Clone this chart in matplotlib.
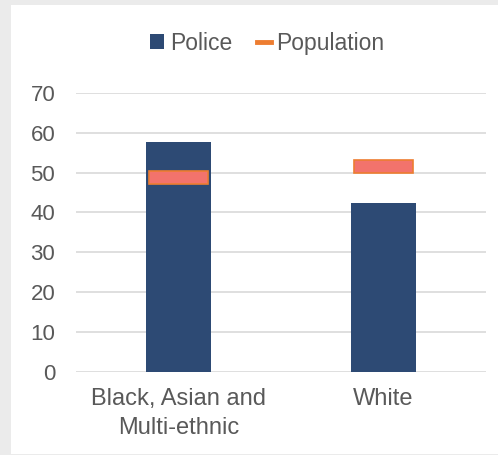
import matplotlib
matplotlib.use("Agg")
import matplotlib.pyplot as plt
from matplotlib.patches import Rectangle, Patch
from matplotlib.lines import Line2D

categories = ["Black, Asian and\nMulti-ethnic", "White"]
police = [57.6, 42.3]
population = [48.7, 51.5]
yticks = [0, 10, 20, 30, 40, 50, 60, 70]

plt.rcParams['font.family'] = ['Liberation Sans', 'DejaVu Sans']
text_color = "#595959"
navy = "#2D4A74"
orange_edge = "#ED7D31"
orange_fill = "#F2736C"

fig = plt.figure(figsize=(4.98, 4.55), dpi=100, facecolor="#EBEBEB")
bg = Rectangle((11/498, 1/455), 1 - 11/498, 450/455 - 1/455,
               transform=fig.transFigure, facecolor="white",
               edgecolor="none", zorder=-5)
fig.add_artist(bg)

ax = fig.add_axes([76/498, (455-371.7)/455, 410/498, (371.7-93)/455])
ax.set_zorder(1)
ax.set_facecolor("none")
x = list(range(len(categories)))
ax.bar(x, police, width=0.315, color=navy, zorder=2)
ax.bar(x, [3.2]*len(population), bottom=[p - 1.6 for p in population],
       width=0.285, color=orange_fill, edgecolor=orange_edge, linewidth=1.2, zorder=3)

ax.set_xlim(-0.5, 1.5)
ax.set_ylim(0, 70)
ax.set_yticks(yticks)
ax.set_yticklabels([str(t) for t in yticks])
ax.set_xticks(x)
ax.set_xticklabels(categories, linespacing=1.4)
ax.grid(axis='y', color="#D9D9D9", linewidth=1.2, zorder=0)
ax.set_axisbelow(True)
for s in ax.spines.values():
    s.set_visible(False)
ax.tick_params(axis='both', length=0, colors=text_color)
ax.tick_params(axis='y', pad=15, labelsize=16)
ax.tick_params(axis='x', pad=12, labelsize=17)

handles = [Patch(facecolor=navy, edgecolor='none'),
           Line2D([0], [0], color=orange_edge, linewidth=3.5)]
fig.legend(handles, ["Police", "Population"], loc='center',
           bbox_to_anchor=(0.537, 0.905), ncol=2, frameon=False,
           fontsize=16.5, labelcolor=text_color, handlelength=0.6,
           handleheight=0.6, handletextpad=0.25, columnspacing=1.1)

fig.savefig("out.png", dpi=100, facecolor=fig.get_facecolor())
